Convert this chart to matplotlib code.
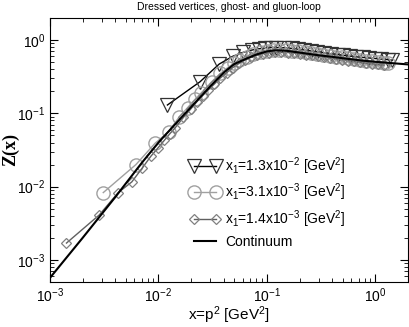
import numpy as np
import matplotlib
matplotlib.use("Agg")
from matplotlib import pyplot as plt

# continuum curve
cont_x = [1e-3, 2e-3, 4e-3, 7e-3, 0.01, 0.015, 0.02, 0.03, 0.04, 0.05, 0.065,
          0.08, 0.1, 0.12, 0.15, 0.2, 0.3, 0.4, 0.55, 0.75, 1.0, 1.4, 2.0]
cont_y = [5.7e-4, 2.0e-3, 7.2e-3, 0.021, 0.040, 0.077, 0.122, 0.233, 0.36, 0.47, 0.56,
          0.635, 0.70, 0.725, 0.715, 0.675, 0.62, 0.59, 0.555, 0.525, 0.505, 0.485, 0.465]

# x1 = 1.3e-2 (triangles)
tri_x = [0.0121, 0.0242, 0.0363, 0.0484, 0.0605, 0.0726, 0.0847, 0.0968, 0.109, 0.121,
         0.145, 0.169, 0.194, 0.218, 0.254, 0.29, 0.339, 0.387, 0.448, 0.508, 0.581,
         0.666, 0.762, 0.871, 0.992, 1.137, 1.307, 1.43]
tri_y = [0.13, 0.27, 0.47, 0.60, 0.68, 0.73, 0.76, 0.78, 0.79, 0.79,
         0.785, 0.77, 0.75, 0.735, 0.71, 0.69, 0.67, 0.65, 0.635, 0.62, 0.605,
         0.59, 0.58, 0.57, 0.56, 0.55, 0.54, 0.53]

# x1 = 3.1e-3 (circles)
circ_x = [0.0031, 0.0062, 0.0093, 0.0124, 0.0155, 0.0186, 0.0217, 0.0248, 0.031, 0.0372,
          0.0434, 0.0496, 0.0558, 0.0651, 0.0744, 0.0868, 0.0992, 0.1147, 0.130, 0.149,
          0.1705, 0.195, 0.223, 0.254, 0.291, 0.332, 0.378, 0.431, 0.490, 0.558,
          0.636, 0.722, 0.822, 0.93, 1.054, 1.19, 1.30]
circ_y = [0.0083, 0.020, 0.039, 0.056, 0.089, 0.12, 0.155, 0.19, 0.27, 0.35,
          0.42, 0.48, 0.53, 0.59, 0.64, 0.68, 0.71, 0.725, 0.73, 0.725,
          0.715, 0.70, 0.68, 0.66, 0.64, 0.625, 0.61, 0.595, 0.58, 0.565,
          0.55, 0.535, 0.52, 0.51, 0.50, 0.49, 0.48]

# x1 = 1.4e-3 (diamonds)
dia_x = [0.00142, 0.00284, 0.00426, 0.00568, 0.0071, 0.00852, 0.00994, 0.01136, 0.01278,
         0.0142, 0.017, 0.0199, 0.0227, 0.0256, 0.0284, 0.0327, 0.0369, 0.0426, 0.0483,
         0.0554, 0.0625, 0.071, 0.081, 0.0923, 0.105, 0.119, 0.136, 0.155, 0.176, 0.2,
         0.227, 0.258, 0.294, 0.334, 0.379, 0.43, 0.488, 0.555, 0.63, 0.717, 0.815,
         0.926, 1.052, 1.196]
dia_y = [0.0017, 0.0041, 0.0083, 0.0116, 0.018, 0.026, 0.034, 0.043, 0.053,
         0.063, 0.088, 0.115, 0.145, 0.175, 0.205, 0.25, 0.30, 0.36, 0.42,
         0.48, 0.53, 0.58, 0.62, 0.65, 0.67, 0.68, 0.68, 0.675, 0.665, 0.65,
         0.635, 0.62, 0.60, 0.585, 0.57, 0.555, 0.54, 0.525, 0.51, 0.50, 0.485,
         0.475, 0.465, 0.455]

labels = [r"x$_1$=1.3x10$^{-2}$ [GeV$^2$]",
          r"x$_1$=3.1x10$^{-3}$ [GeV$^2$]",
          r"x$_1$=1.4x10$^{-3}$ [GeV$^2$]",
          "Continuum"]

plt.rcParams['font.family'] = ['Liberation Sans', 'DejaVu Sans']
plt.rcParams['mathtext.fontset'] = 'custom'
plt.rcParams['mathtext.rm'] = 'Liberation Sans'
plt.rcParams['mathtext.it'] = 'Liberation Sans'

fig = plt.figure(figsize=(4.09, 3.27), dpi=100)
ax = fig.add_axes([0.1222, 0.1376, 0.8754, 0.8074])

ax.plot(tri_x, tri_y, color='black', lw=1.0, marker='v', ms=9.5,
        mfc='none', mec='#333333', mew=0.9, label=labels[0])
ax.plot(circ_x, circ_y, color='#a0a0a0', lw=1.0, marker='o', ms=9.5,
        mfc='none', mec='#a0a0a0', mew=1.0, label=labels[1])
ax.plot(dia_x, dia_y, color='#606060', lw=1.0, marker='D', ms=5.5,
        mfc='none', mec='#808080', mew=0.9, label=labels[2])
ax.plot(cont_x, cont_y, color='black', lw=1.5, label=labels[3])

ax.set_xscale('log')
ax.set_yscale('log')
ax.set_xlim(1e-3, 2)
ax.set_ylim(5e-4, 2)

ax.tick_params(which='both', direction='in', top=True, right=True, labelsize=10)
ax.tick_params(which='major', length=6, width=0.8)
ax.tick_params(which='minor', length=3, width=0.6)

ax.set_xlabel(r"x=p$^2$ [GeV$^2$]", fontsize=11)
ax.xaxis.set_label_coords(0.5, -0.085)
ax.set_ylabel("Z(x)", fontsize=13, fontweight='bold', family='Liberation Serif')
ax.yaxis.set_label_coords(-0.085, 0.5)
ax.set_title("Dressed vertices, ghost- and gluon-loop", fontsize=7.5, pad=6)

ax.legend(loc='lower right', bbox_to_anchor=(0.84, 0.105), frameon=False, fontsize=10,
          numpoints=2, handlelength=2.2, handletextpad=0.3, labelspacing=0.36,
          borderaxespad=0.0)

fig.savefig("out.png", dpi=100)
